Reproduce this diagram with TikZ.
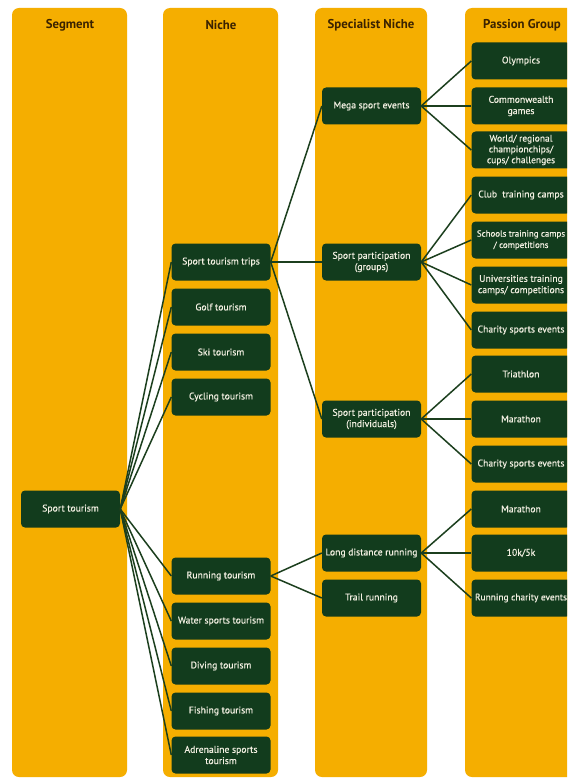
\documentclass[tikz,border=0pt]{standalone}
\usepackage{fontspec}
\setmainfont{PT Sans}
\newfontfamily\boxfont[FakeBold=0.5]{PT Sans}
\definecolor{colorange}{HTML}{F5AE00}
\definecolor{nodegreen}{HTML}{123C1D}
\definecolor{linegreen}{HTML}{1C3F1E}
\definecolor{headtext}{HTML}{3A2200}
\definecolor{boxtext}{HTML}{F3F0E2}
\tikzset{
  colbox/.style={fill=colorange, rounded corners=7pt},
  head/.style={font=\bfseries\fontsize{12.8}{14}\selectfont, text=headtext},
  box/.style={fill=nodegreen, rounded corners=4pt, minimum width=99pt, minimum height=37pt,
    text=boxtext, align=center, inner sep=1pt, font=\boxfont\fontsize{9.7}{11.3}\selectfont},
  link/.style={draw=linegreen, line width=1.5pt}
}
\begin{document}
\begin{tikzpicture}[x=1pt,y=-1pt]
\useasboundingbox (0,0) rectangle (567,778);
\clip (0,0) rectangle (567,778);
\fill[white] (0,0) rectangle (567,778);
% columns
\path[colbox] (12,8) rectangle (127,777);
\path[colbox] (163,8) rectangle (278,777);
\path[colbox] (315,8) rectangle (427,777);
\path[colbox] (465,8) rectangle (590,777);
% headers
\node[head] (h1) at (70,25) {Segment};
\node[head] (h2) at (221,25) {Niche};
\node[head] (h3) at (371,25) {Specialist Niche};
\node[head] (h4) at (522,25) {Passion Group};
% segment
\node[box] (st) at (70.5,509) {Sport tourism};
% niche
\node[box] (n1) at (221,262) {Sport tourism trips};
\node[box] (n2) at (221,307) {Golf tourism};
\node[box] (n3) at (221,352) {Ski tourism};
\node[box] (n4) at (221,397) {Cycling tourism};
\node[box] (n5) at (221,576) {Running tourism};
\node[box] (n6) at (221,621) {Water sports tourism};
\node[box] (n7) at (221,666) {Diving tourism};
\node[box] (n8) at (221,711) {Fishing tourism};
\node[box] (n9) at (221,755) {Adrenaline sports\\tourism};
% specialist
\node[box] (s1) at (371.5,106) {Mega sport events};
\node[box] (s2) at (371.5,262) {Sport participation\\(groups)};
\node[box] (s3) at (371.5,419) {Sport participation\\(individuals)};
\node[box] (s4) at (371.5,553) {Long distance running};
\node[box] (s5) at (371.5,598) {Trail running};
% passion
\node[box] (p1) at (521,61) {Olympics};
\node[box] (p2) at (521,106) {Commonwealth\\games};
\node[box, font=\boxfont\fontsize{9.5}{10.8}\selectfont] (p3) at (521,150) {World/ regional\\championchips/\\cups/ challenges};
\node[box] (p4) at (521,195) {Club\ \ training camps};
\node[box, font=\boxfont\fontsize{8.9}{11.3}\selectfont] (p5) at (521,240) {Schools training camps\\/ competitions};
\node[box] (p6) at (521,285) {Universities training\\camps/ competitions};
\node[box] (p7) at (521,330) {Charity sports events};
\node[box] (p8) at (521,374) {Triathlon};
\node[box] (p9) at (521,419) {Marathon};
\node[box] (p10) at (521,464) {Charity sports events};
\node[box] (p11) at (521,509) {Marathon};
\node[box] (p12) at (521,553) {10k/5k};
\node[box, font=\boxfont\fontsize{9.4}{11.3}\selectfont] (p13) at (521,598) {Running charity events};
% connectors
\foreach \n in {n1,n2,n3,n4,n5,n6,n7,n8,n9} \draw[link] (st.east) -- (\n.west);
\foreach \n in {s1,s2,s3} \draw[link] (n1.east) -- (\n.west);
\foreach \n in {s4,s5} \draw[link] (n5.east) -- (\n.west);
\foreach \n in {p1,p2,p3} \draw[link] (s1.east) -- (\n.west);
\foreach \n in {p4,p5,p6,p7} \draw[link] (s2.east) -- (\n.west);
\foreach \n in {p8,p9,p10} \draw[link] (s3.east) -- (\n.west);
\foreach \n in {p11,p12,p13} \draw[link] (s4.east) -- (\n.west);
\end{tikzpicture}
\end{document}
